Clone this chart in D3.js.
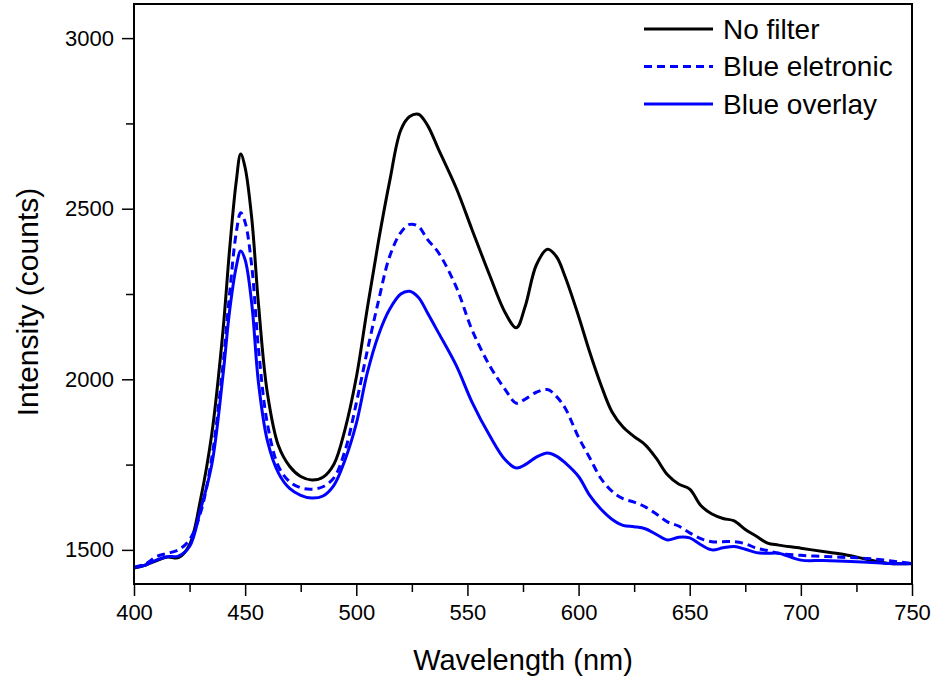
<!DOCTYPE html>
<html>
<head>
<meta charset="utf-8">
<script src="https://cdn.jsdelivr.net/npm/d3@7"></script>
<style>
  body { margin: 0; background: #fff; }
  svg { display: block; font-family: "Liberation Sans", Arial, sans-serif; }
  .tick text { font-size: 22px; fill: #000; }
  .tick line { stroke: #000; stroke-width: 1.5px; }
</style>
</head>
<body>
<svg id="chart" width="935" height="680"></svg>
<script>
var wavelength = [400, 405, 410, 415, 420, 425, 430, 435, 440, 443, 446, 448, 450, 453, 456, 460, 465, 470, 475, 480,
  485, 490, 495, 500, 505, 510, 515, 520, 524, 528, 532, 537, 545, 552, 560, 567, 572, 576, 581, 586,
  590, 594, 600, 605, 610, 615, 620, 625, 630, 635, 640, 645, 650, 655, 660, 665, 670, 675, 680, 685,
  690, 700, 710, 720, 730, 740, 750];

var noFilter = [1447, 1455, 1468, 1479, 1477, 1515, 1650, 1840, 2140, 2380, 2580, 2660, 2620, 2470, 2220, 1960, 1805, 1745, 1715, 1705,
  1713, 1752, 1855, 2005, 2210, 2405, 2580, 2730, 2770, 2777, 2745, 2674, 2560, 2440, 2305, 2195, 2151, 2214, 2335, 2381,
  2360, 2300, 2185, 2080, 1985, 1905, 1860, 1832, 1808, 1768, 1720, 1693, 1678, 1630, 1605, 1592, 1585, 1560, 1540, 1520,
  1514, 1505, 1495, 1486, 1472, 1460, 1460];

var blueElectronic = [1450, 1458, 1480, 1490, 1500, 1530, 1610, 1770, 2040, 2250, 2430, 2488, 2460, 2330, 2090, 1870, 1745, 1700, 1682, 1678,
  1685, 1712, 1792, 1930, 2085, 2230, 2360, 2430, 2454, 2448, 2410, 2371, 2270, 2146, 2040, 1970, 1930, 1942, 1962, 1970,
  1950, 1915, 1830, 1770, 1710, 1672, 1650, 1640, 1626, 1605, 1582, 1570, 1550, 1533, 1524, 1524, 1524, 1518, 1505, 1498,
  1490, 1484, 1481, 1478, 1475, 1468, 1460];

var blueOverlay = [1448, 1455, 1470, 1480, 1482, 1510, 1620, 1750, 2010, 2200, 2330, 2376, 2350, 2220, 1990, 1820, 1725, 1680, 1660, 1652,
  1658, 1690, 1765, 1870, 2020, 2130, 2205, 2250, 2258, 2240, 2195, 2136, 2040, 1934, 1835, 1764, 1740, 1750, 1772, 1784,
  1775, 1755, 1715, 1660, 1620, 1590, 1572, 1568, 1562, 1545, 1529, 1537, 1535, 1515, 1500, 1506, 1510, 1502, 1492, 1490,
  1490, 1470, 1469, 1467, 1464, 1460, 1459];

var seriesNames = ["No filter", "Blue eletronic", "Blue overlay"];
var xTicks = [400, 450, 500, 550, 600, 650, 700, 750];
var yTicks = [1500, 2000, 2500, 3000];

var svg = d3.select("#chart"),
    margin = {top: 4, right: 23, bottom: 96, left: 134},
    width = +svg.attr("width") - margin.left - margin.right,
    height = +svg.attr("height") - margin.top - margin.bottom;

var x = d3.scaleLinear().domain([400, 750]).range([0, width]),
    y = d3.scaleLinear().domain([1400, 3100]).range([height, 0]);

var g = svg.append("g")
    .attr("transform", "translate(" + margin.left + "," + margin.top + ")");

// minor ticks first, then the labelled ones
g.append("g")
    .attr("transform", "translate(0," + height + ")")
    .call(d3.axisBottom(x).tickValues(d3.range(425, 750, 50)).tickSize(8).tickFormat(""))
    .call(function(a) { a.select(".domain").remove(); });
g.append("g")
    .call(d3.axisLeft(y).tickValues([1750, 2250, 2750]).tickSize(8).tickFormat(""))
    .call(function(a) { a.select(".domain").remove(); });

g.append("g")
    .attr("transform", "translate(0," + height + ")")
    .call(d3.axisBottom(x).tickValues(xTicks).tickSize(12).tickPadding(8).tickFormat(d3.format("d")))
    .call(function(a) { a.select(".domain").remove(); });
g.append("g")
    .call(d3.axisLeft(y).tickValues(yTicks).tickSize(12).tickPadding(8).tickFormat(d3.format("d")))
    .call(function(a) { a.select(".domain").remove(); });

var line = d3.line()
    .x(function(d) { return x(d[0]); })
    .y(function(d) { return y(d[1]); })
    .curve(d3.curveCatmullRom.alpha(0.5));

var series = [
  {name: seriesNames[0], values: noFilter, color: "#000", dash: null},
  {name: seriesNames[1], values: blueElectronic, color: "#0000ff", dash: "8,5"},
  {name: seriesNames[2], values: blueOverlay, color: "#0000ff", dash: null}
];

g.selectAll(".spec")
  .data(series)
  .enter().append("path")
    .attr("class", "spec")
    .attr("d", function(s) { return line(wavelength.map(function(w, i) { return [w, s.values[i]]; })); })
    .attr("fill", "none")
    .attr("stroke", function(s) { return s.color; })
    .attr("stroke-width", 3)
    .attr("stroke-dasharray", function(s) { return s.dash; });

// frame
g.append("rect")
    .attr("width", width)
    .attr("height", height)
    .attr("fill", "none")
    .attr("stroke", "#000")
    .attr("stroke-width", 2);

// legend
var legend = g.selectAll(".legend")
  .data(series)
  .enter().append("g")
    .attr("class", "legend")
    .attr("transform", function(d, i) { return "translate(510," + (25 + i * 37.5) + ")"; });

legend.append("line")
    .attr("x1", 0).attr("x2", 69)
    .attr("stroke", function(d) { return d.color; })
    .attr("stroke-width", 3)
    .attr("stroke-dasharray", function(d) { return d.dash; });

legend.append("text")
    .attr("x", 79)
    .attr("dy", "0.35em")
    .style("font-size", "28px")
    .text(function(d) { return d.name; });

// axis titles
svg.append("text")
    .attr("x", margin.left + width / 2)
    .attr("y", 670)
    .attr("text-anchor", "middle")
    .style("font-size", "29px")
    .text("Wavelength (nm)");

svg.append("text")
    .attr("transform", "translate(38," + (margin.top + 298) + ") rotate(-90)")
    .attr("text-anchor", "middle")
    .style("font-size", "30px")
    .text("Intensity (counts)");
</script>
</body>
</html>
